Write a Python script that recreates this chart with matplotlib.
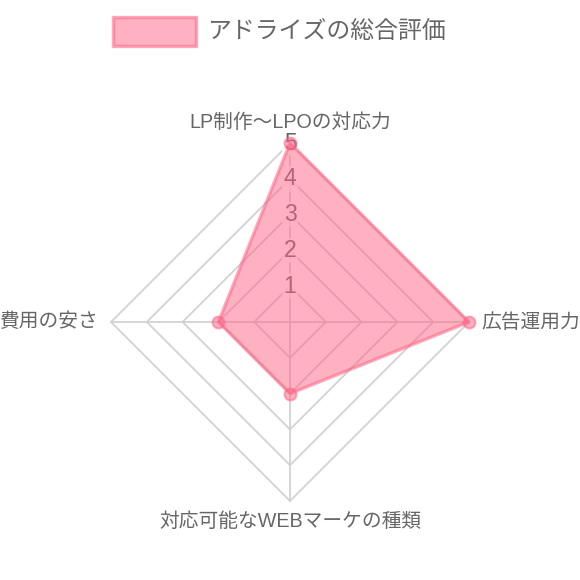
import numpy as np
import matplotlib
matplotlib.use("Agg")
import matplotlib.pyplot as plt
from matplotlib.patches import Rectangle

plt.rcParams['font.family'] = ['Liberation Sans', 'Noto Sans CJK JP', 'DejaVu Sans']

categories = ["LP制作〜LPOの対応力", "広告運用力", "対応可能なWEBマーケの種類", "費用の安さ"]
values = [5, 5, 2, 2]
series_name = "アドライズの総合評価"
tick_values = [1, 2, 3, 4, 5]
r_max = 5

W = H = 580
cx, cy, R = 290, 322, 179
fig = plt.figure(figsize=(W / 100, H / 100), dpi=100)
ax = fig.add_axes([(cx - R) / W, (H - cy - R) / H, 2 * R / W, 2 * R / H], projection='polar')
ax.set_theta_offset(np.pi / 2)
ax.set_theta_direction(-1)
ax.set_ylim(0, r_max)
ax.grid(False)
ax.spines['polar'].set_visible(False)
ax.set_xticks([])
ax.set_yticks([])
ax.patch.set_alpha(0)

n = len(categories)
angles = np.linspace(0, 2 * np.pi, n, endpoint=False)
closed = np.concatenate([angles, angles[:1]])

grid_col = '#d2d2d2'
for t in tick_values:
    ax.plot(closed, [t] * (n + 1), color=grid_col, lw=1.3, zorder=1, clip_on=False)
for a in angles:
    ax.plot([a, a], [0, r_max], color=grid_col, lw=1.3, zorder=1, clip_on=False)

for t in tick_values:
    ax.text(0, t, str(t), ha='center', va='center', fontsize=16.5, color='#666666',
            zorder=2, bbox=dict(facecolor='white', alpha=0.75, edgecolor='none', pad=1.0))

pink = (1, 99 / 255, 132 / 255)
vals = np.array(values + values[:1], dtype=float)
ax.fill(closed, vals, color=pink + (0.5,), zorder=3, lw=0, clip_on=False)
ax.plot(closed, vals, color=pink + (0.55,), lw=2.4, zorder=4, clip_on=False)
ax.plot(angles, values, 'o', ms=8.5, mfc=pink + (0.5,),
        mec=pink + (0.55,), mew=1.5, zorder=5, clip_on=False)

label_cfg = [((0, 15), 'center', 'center'), ((9, 0), 'left', 'center'),
             ((0, -15), 'center', 'center'), ((-9, 0), 'right', 'center')]
for a, lab, (off, ha, va) in zip(angles, categories, label_cfg):
    ax.annotate(lab, xy=(a, r_max), xytext=off, textcoords='offset points',
                ha=ha, va=va, fontsize=14.2, color='#666666', annotation_clip=False)

# legend
fig.patches.append(Rectangle((113 / W, 1 - 46 / H), 83 / W, 29 / H, transform=fig.transFigure,
                             facecolor=pink + (0.5,), edgecolor=pink + (0.55,), lw=2.4))
fig.text(207 / W, 1 - 32 / H, series_name, ha='left', va='center', fontsize=17.2, color='#666666')

fig.savefig('out.png', dpi=100)
